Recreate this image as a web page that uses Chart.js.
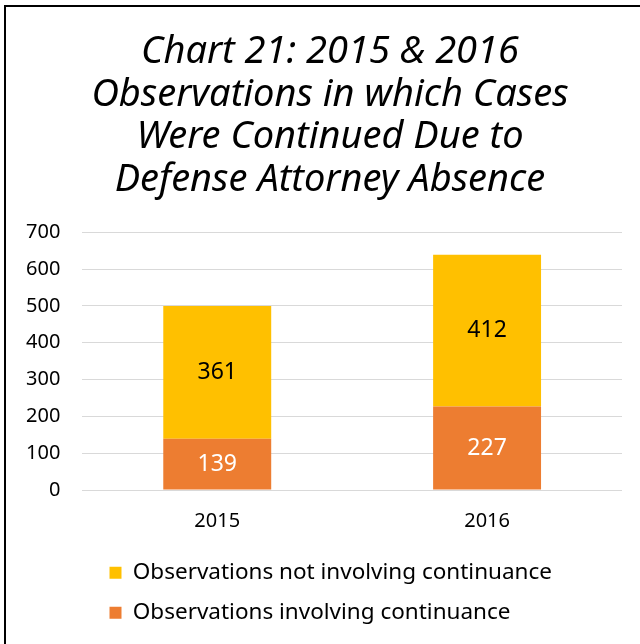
<!DOCTYPE html>
<html>
<head>
<meta charset="utf-8">
<script src="https://cdn.jsdelivr.net/npm/chart.js@4/dist/chart.umd.min.js"></script>
<style>
  html, body { margin: 0; padding: 0; background: #fff; }
  #wrap { position: absolute; left: 0; top: 0; width: 640px; height: 644px; overflow: hidden; }
  #frame { position: absolute; left: 4px; top: 5px; width: 700px; height: 700px;
           border-left: 2px solid #000; border-top: 2px solid #000; pointer-events: none; }
</style>
</head>
<body>
<div id="wrap">
  <canvas id="chart21" width="640" height="644"></canvas>
  <div id="frame"></div>
</div>
<script>
// chart data
const years = ['2015', '2016'];
const withContinuance = [139, 227];
const withoutContinuance = [361, 412];
const yTicks = [0, 100, 200, 300, 400, 500, 600, 700];

const titleLines = [
  'Chart 21: 2015 & 2016',
  'Observations in which Cases',
  'Were Continued Due to',
  'Defense Attorney Absence'
];

const FONT = "'Noto Sans', sans-serif";

// writes the value in the middle of each bar segment
const barValues = {
  id: 'barValues',
  afterDatasetsDraw(chart) {
    const ctx = chart.ctx;
    ctx.save();
    ctx.font = '23px ' + FONT;
    ctx.textAlign = 'center';
    ctx.textBaseline = 'middle';
    chart.data.datasets.forEach((ds, i) => {
      const meta = chart.getDatasetMeta(i);
      ctx.fillStyle = ds.valueColor;
      meta.data.forEach((bar, j) => {
        ctx.fillText(ds.data[j], bar.x, (bar.y + bar.base) / 2);
      });
    });
    ctx.restore();
  }
};

// legend rows start at the same left edge as in the original,
// and the title sits a bit right of the canvas middle
const nudgeBoxes = {
  id: 'nudgeBoxes',
  afterLayout(chart) {
    chart.legend.left = 92;
    chart.titleBlock.left += 17;
    chart.titleBlock.right += 17;
  }
};

function drawChart() {
  const ctx = document.getElementById('chart21').getContext('2d');
  new Chart(ctx, {
    type: 'bar',
    data: {
      labels: years,
      datasets: [
        {
          label: 'Observations involving continuance',
          data: withContinuance,
          backgroundColor: '#ED7D31',
          valueColor: '#ffffff'
        },
        {
          label: 'Observations not involving continuance',
          data: withoutContinuance,
          backgroundColor: '#FFC000',
          valueColor: '#000000'
        }
      ]
    },
    options: {
      responsive: false,
      animation: false,
      layout: { padding: { left: 4, right: 18, top: 0, bottom: 10 } },
      datasets: { bar: { categoryPercentage: 1, barPercentage: 0.4 } },
      scales: {
        x: {
          stacked: true,
          grid: { display: false },
          border: { display: false },
          ticks: { color: '#000', padding: 11, font: { family: FONT, size: 20 } }
        },
        y: {
          stacked: true,
          min: 0,
          max: 700,
          afterBuildTicks(scale) { scale.ticks = yTicks.map(v => ({ value: v })); },
          grid: { color: '#d9d9d9', lineWidth: 1, drawTicks: false },
          border: { display: false },
          ticks: { color: '#000', padding: 22, font: { family: FONT, size: 20 } }
        }
      },
      plugins: {
        title: {
          display: true,
          text: titleLines,
          color: '#000',
          padding: { top: 31, bottom: 31 },
          font: { family: FONT, size: 38, style: 'italic', weight: 'normal', lineHeight: 1.12 }
        },
        legend: {
          position: 'bottom',
          align: 'start',
          reverse: true,
          labels: {
            color: '#000',
            boxWidth: 12,
            boxHeight: 12,
            padding: 17.5,
            font: { family: FONT, size: 22.5 }
          }
        },
        tooltip: { enabled: false }
      }
    },
    plugins: [barValues, nudgeBoxes]
  });
}

window.onload = drawChart;
</script>
</body>
</html>
